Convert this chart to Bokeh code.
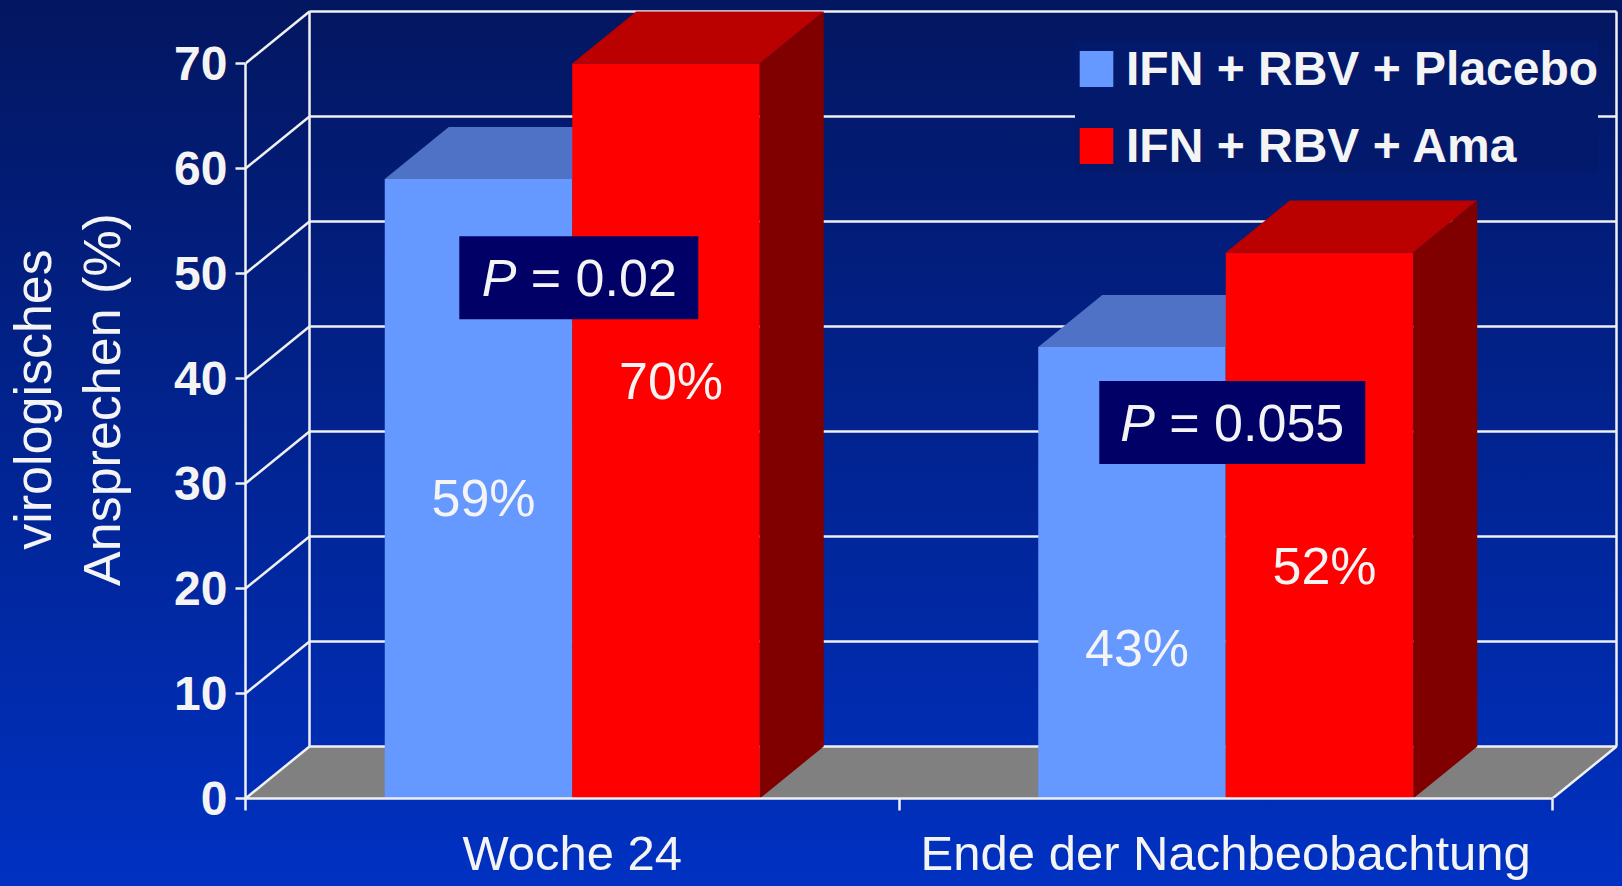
from bokeh.plotting import figure
from bokeh.models import Range1d, FixedTicker, Legend, LegendItem
from bokeh.embed import file_html
from bokeh.resources import INLINE
from bokeh.core.properties import value

# ---------------- data ----------------
categories = ["Woche 24", "Ende der Nachbeobachtung"]
series = ["IFN + RBV + Placebo", "IFN + RBV + Ama"]
placebo = [59, 43]
ama = [70, 52]
p_values = ["0.02", "0.055"]
y_ticks = [0, 10, 20, 30, 40, 50, 60, 70]
y_title = "virologisches\nAnsprechen (%)"

# ---------------- layout / style ----------------
W, H = 1622, 886
PX_X = 653.5          # px per category
PX_Y = 10.5           # px per percent
LEFT = 245
ZERO_Y = 798          # canvas y of value 0 (= frame bottom)
DX = 64 / PX_X        # 3D depth offset (data units)
DY = 52 / PX_Y
BAR_W = 187.5 / PX_X
NC = len(categories)
YMAX = y_ticks[-1]
FONT = "Liberation Sans"
WHITE = "#f4f4f4"
LINE = "#f0f0f0"

# vertical placement of the value labels inside the bars (annotation positions)
label_y = [[28.6, 14.3], [39.8, 22.1]]

front_col = ["#6699ff", "#ff0000"]
top_col = ["#5072c6", "#bb0000"]
side_col = ["#3d5aa8", "#800000"]

x_end = (W - LEFT) / PX_X
y_end = ZERO_Y / PX_Y

p = figure(width=W, height=H, output_backend="svg", toolbar_location=None,
           x_range=Range1d(0, x_end), y_range=Range1d(0, y_end),
           min_border_left=LEFT, min_border_right=0, min_border_top=0,
           min_border_bottom=H - ZERO_Y,
           background_fill_color=None, border_fill_color=None,
           outline_line_color=None)
p.styles = {"background-image": "linear-gradient(180deg, #031660 0%, #0031c2 100%)"}
p.grid.visible = False

# floor
p.patch([0, NC, NC + DX, DX], [0, 0, DY, DY], fill_color="#808080", line_color=None)

# walls / gridlines
xs, ys = [], []
for v in y_ticks:
    xs.append([DX, NC + DX]); ys.append([v + DY, v + DY])
    xs.append([0, DX]); ys.append([v, v + DY])
xs.append([DX, DX]); ys.append([DY, YMAX + DY])
xs.append([NC + DX, NC + DX]); ys.append([DY, YMAX + DY])
xs.append([NC, NC + DX]); ys.append([0, DY])
p.multi_line(xs, ys, line_color=LINE, line_width=2.5)

# bars
front_renderers = []
for s, vals in enumerate([placebo, ama]):
    lefts = [i + 0.5 - BAR_W + s * BAR_W for i in range(NC)]
    rights = [l + BAR_W for l in lefts]
    r = p.quad(left=lefts, right=rights, bottom=0, top=vals,
               fill_color=front_col[s], line_color=None)
    front_renderers.append(r)
    tx = [[l, rr, rr + DX, l + DX] for l, rr in zip(lefts, rights)]
    ty = [[v, v, v + DY, v + DY] for v in vals]
    p.patches(tx, ty, fill_color=top_col[s], line_color=None)
    sx = [[rr, rr + DX, rr + DX, rr] for rr in rights]
    sy = [[0, DY, v + DY, v] for v in vals]
    p.patches(sx, sy, fill_color=side_col[s], line_color=None)

# value labels
for s, vals in enumerate([placebo, ama]):
    cx = [i + 0.5 - BAR_W / 2 + s * BAR_W for i in range(NC)]
    p.text(x=cx, y=label_y[s], text=[f"{v}%" for v in vals],
           x_offset=5, text_align="center", text_baseline="middle",
           text_font=value(FONT), text_font_size="52px", text_color=WHITE)

# P-value boxes
box_x = [i + 0.51 for i in range(NC)]
box_y = [49.6, 35.8]
box_w = [239, 266]
p.rect(x=box_x, y=box_y, width=box_w, height=83, width_units="screen",
       height_units="screen", fill_color="#000066", line_color=None)
p.text(x=box_x, y=box_y, text=["P"] * NC, x_offset=[-97, -112],
       text_align="left", text_baseline="middle", text_font=value(FONT),
       text_font_size="52px", text_font_style="italic", text_color=WHITE)
p.text(x=box_x, y=box_y, text=[f"= {pv}" for pv in p_values], x_offset=[-48, -63],
       text_align="left", text_baseline="middle", text_font=value(FONT),
       text_font_size="52px", text_color=WHITE)

# y axis
yax = p.yaxis[0]
yax.ticker = FixedTicker(ticks=y_ticks)
yax.bounds = (0, YMAX)
yax.axis_line_color = LINE
yax.axis_line_width = 2.5
yax.major_tick_line_color = LINE
yax.major_tick_line_width = 2.5
yax.major_tick_out = 10
yax.major_tick_in = 0
yax.minor_tick_line_color = None
yax.major_label_text_font = FONT
yax.major_label_text_font_size = "48px"
yax.major_label_text_font_style = "bold"
yax.major_label_text_color = WHITE
yax.major_label_standoff = 8
yax.axis_label = y_title
yax.axis_label_text_font = FONT
yax.axis_label_text_font_size = "52px"
yax.axis_label_text_font_style = "normal"
yax.axis_label_text_color = WHITE
yax.axis_label_standoff = 40

# x axis
xax = p.xaxis[0]
xax.ticker = FixedTicker(ticks=[i + 0.5 for i in range(NC)],
                         minor_ticks=list(range(NC + 1)))
xax.major_label_overrides = {i + 0.5: c for i, c in enumerate(categories)}
xax.bounds = (0, NC)
xax.axis_line_color = LINE
xax.axis_line_width = 2.5
xax.major_tick_line_color = None
xax.major_tick_out = 0
xax.major_tick_in = 0
xax.minor_tick_line_color = LINE
xax.minor_tick_line_width = 2.5
xax.minor_tick_out = 12
xax.minor_tick_in = 0
xax.major_label_text_font = FONT
xax.major_label_text_font_size = "49px"
xax.major_label_text_color = WHITE
xax.major_label_standoff = 15

# legend
legend = Legend(items=[LegendItem(label=series[i], renderers=[front_renderers[i]]) for i in range(2)],
                location=(830, 625), orientation="vertical",
                background_fill_color="#03196b", background_fill_alpha=1.0,
                border_line_color=None, padding=8, spacing=22, margin=0,
                glyph_width=42, glyph_height=45, label_standoff=9,
                label_text_font=FONT, label_text_font_size="48px",
                label_text_font_style="bold", label_text_color=WHITE)
p.add_layout(legend)

open("out.html", "w").write(file_html(p, INLINE))
